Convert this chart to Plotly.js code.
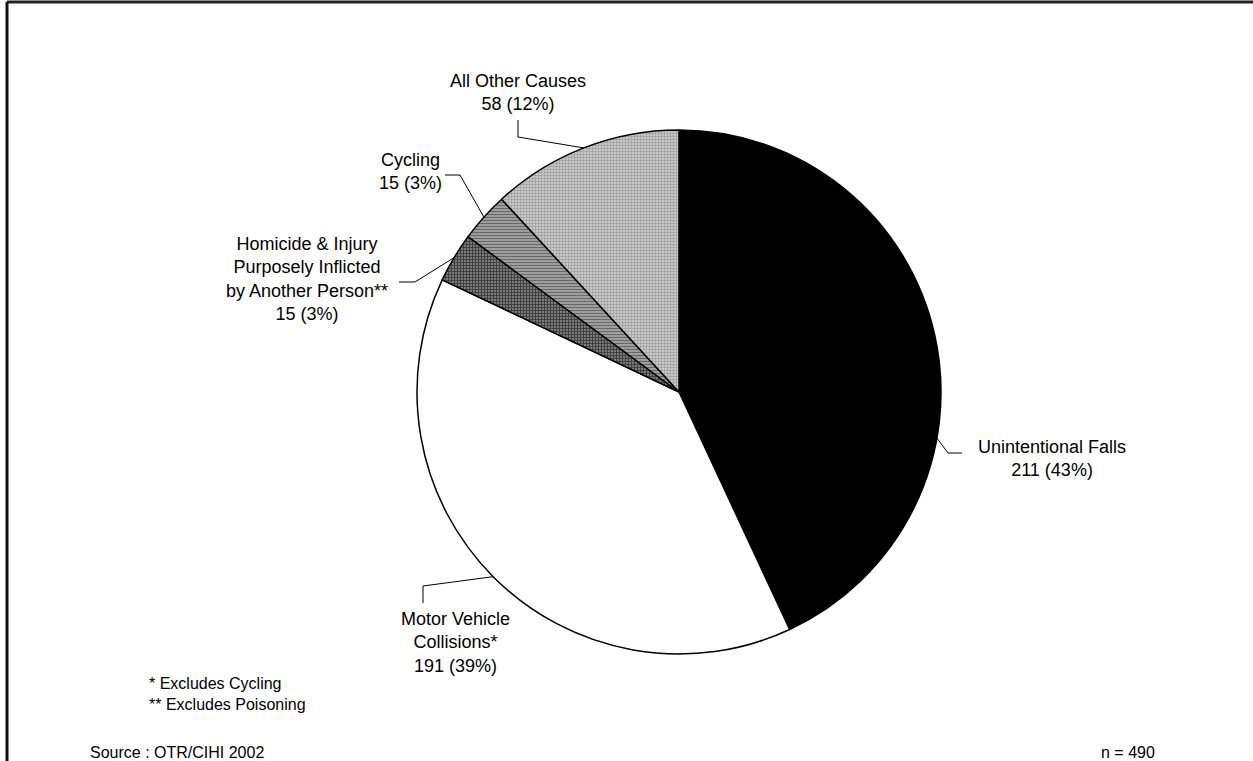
<!DOCTYPE html>
<html>
<head>
<meta charset="utf-8">
<script src="https://cdn.plot.ly/plotly-3.0.1.min.js"></script>
<style>
  html, body { margin: 0; padding: 0; background: #fff; }
  #chart { width: 1253px; height: 761px; }
</style>
</head>
<body>
<div id="chart"></div>
<script>
const causeLabels = [
    "Unintentional Falls",
    "Motor Vehicle<br>Collisions*",
    "Homicide & Injury<br>Purposely Inflicted<br>by Another Person**",
    "Cycling",
    "All Other Causes",
];
const causeCounts = [211, 191, 15, 15, 58];
const footnotes = ["* Excludes Cycling", "** Excludes Poisoning"];
const sourceNote = "Source : OTR/CIHI 2002";

const W = 1253, H = 761;
const CX = 679, CY = 392, R = 262;
const FONT = "Liberation Sans, Arial, sans-serif";

// slice fills: solid for the big two, hatched greys for the small ones
const SLICE_STYLE = [
    { bg: "#000000", fg: "#000000", shape: "" },
    { bg: "#ffffff", fg: "#ffffff", shape: "" },
    { bg: "#7a7a7a", fg: "#3c3c3c", shape: "+" },
    { bg: "#b0b0b0", fg: "#686868", shape: "-" },
    { bg: "#d4d4d4", fg: "#9c9c9c", shape: "." },
];

// label placement (pixels): text centre, leader elbow, leader end, where on slice
const LABEL_POS = [
    { tx: 1052, ty: 458, elbow: [948, 453], end: [962, 453], frac: 0.646 },
    { tx: 455,  ty: 642, elbow: [423, 586], end: [423, 603], frac: 0.5 },
    { tx: 307,  ty: 279, elbow: [415, 282], end: [399, 282], frac: 0.5 },
    { tx: 410,  ty: 171, elbow: [460, 175], end: [445, 175], frac: 0.5 },
    { tx: 518,  ty: 92,  elbow: [518, 137], end: [518, 120], frac: 0.5 },
];

const px = (x) => x / W;
const py = (y) => 1 - y / H;

const total = causeCounts.reduce((a, b) => a + b, 0);

function edgePoint(i, frac) {
    let before = 0;
    for (let k = 0; k < i; k++) before += causeCounts[k];
    const ang = (before + causeCounts[i] * frac) / total * 2 * Math.PI;
    return [CX + R * Math.sin(ang), CY - R * Math.cos(ang)];
}

const trace = {
    type: "pie",
    values: causeCounts,
    labels: causeLabels,
    sort: false,
    direction: "clockwise",
    rotation: 0,
    textinfo: "none",
    hoverinfo: "skip",
    showlegend: false,
    domain: { x: [px(CX - R), px(CX + R)], y: [py(CY + R), py(CY - R)] },
    marker: {
        colors: SLICE_STYLE.map((s) => s.bg),
        line: { color: "#000", width: 1.5 },
        pattern: {
            shape: SLICE_STYLE.map((s) => s.shape),
            fgcolor: SLICE_STYLE.map((s) => s.fg),
            bgcolor: SLICE_STYLE.map((s) => s.bg),
            size: 3,
            solidity: 0.5,
        },
    },
};

const annotations = causeLabels.map((lab, i) => {
    const pct = Math.round(causeCounts[i] / total * 100);
    return {
        xref: "paper", yref: "paper",
        x: px(LABEL_POS[i].tx), y: py(LABEL_POS[i].ty),
        xanchor: "center", yanchor: "middle",
        text: lab + "<br>" + causeCounts[i] + " (" + pct + "%)",
        showarrow: false,
        font: { family: FONT, size: 18, color: "#000" },
    };
});

annotations.push(
    {
        xref: "paper", yref: "paper", x: px(147), y: py(694),
        xanchor: "left", yanchor: "middle", align: "left",
        text: footnotes.join("<br>"), showarrow: false,
        font: { family: FONT, size: 16, color: "#000" },
    },
    {
        xref: "paper", yref: "paper", x: px(88), y: py(752),
        xanchor: "left", yanchor: "middle",
        text: sourceNote, showarrow: false,
        font: { family: FONT, size: 16, color: "#000" },
    },
    {
        xref: "paper", yref: "paper", x: px(1157), y: py(752),
        xanchor: "right", yanchor: "middle",
        text: "n = " + total, showarrow: false,
        font: { family: FONT, size: 16, color: "#000" },
    }
);

const shapes = LABEL_POS.map((p, i) => {
    const [ex, ey] = edgePoint(i, p.frac);
    return {
        type: "path", xref: "paper", yref: "paper",
        path: `M ${px(ex)} ${py(ey)} L ${px(p.elbow[0])} ${py(p.elbow[1])} L ${px(p.end[0])} ${py(p.end[1])}`,
        line: { color: "#000", width: 1 },
    };
});

// outer frame: top and left edges only
shapes.push(
    { type: "line", xref: "paper", yref: "paper", x0: px(7), x1: 1, y0: py(2), y1: py(2),
      line: { color: "#222", width: 3 } },
    { type: "line", xref: "paper", yref: "paper", x0: px(7), x1: px(7), y0: py(2), y1: 0,
      line: { color: "#111", width: 3 } }
);

const layout = {
    width: W, height: H,
    margin: { t: 0, b: 0, l: 0, r: 0 },
    paper_bgcolor: "#fff",
    plot_bgcolor: "#fff",
    showlegend: false,
    annotations,
    shapes,
    font: { family: FONT },
};

Plotly.newPlot("chart", [trace], layout, { displayModeBar: false, responsive: false });
</script>
</body>
</html>
